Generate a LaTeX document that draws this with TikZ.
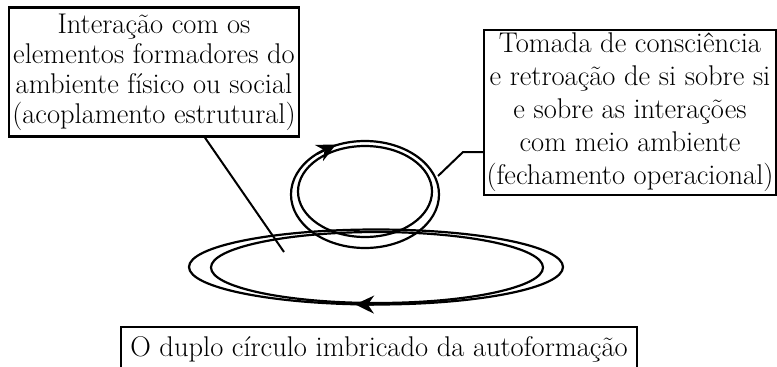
\documentclass[tikz,border=0pt]{standalone}
\usetikzlibrary{arrows.meta}
\begin{document}
\begin{tikzpicture}
			[x=1pt,y=-1pt,
			caixa/.style={draw,line width=2.4pt,align=center,inner sep=0pt,font=\fontsize{28.5}{30}\selectfont},
			laco/.style={line width=2.2pt},
			seta/.style={-{Stealth[length=19pt,width=18pt]},line width=2.2pt}]
			\useasboundingbox (0,0) rectangle (777,367);
			% caixas de texto
			\node[caixa,name=lbox,minimum width=290pt,minimum height=129pt]at(154,72){Interação com os\\elementos formadores do\\ambiente físico ou social\\(acoplamento estrutural)};
			\node[caixa,name=rbox,minimum width=292pt,minimum height=165pt,font=\fontsize{28.5}{33}\selectfont]at(630,112.5){Tomada de consciência\\e retroação de si sobre si\\e sobre as interações\\com meio ambiente\\(fechamento operacional)};
			\node[caixa,name=bbox,minimum width=516pt,minimum height=44pt]at(379,349){O duplo círculo imbricado da autoformação};
			% duplo circulo maior
			\draw[laco] (376,267) ellipse [x radius=187pt,y radius=37.5pt];
			\draw[laco] (377,267.5) ellipse [x radius=166pt,y radius=35.5pt];
			% duplo circulo menor
			\draw[laco] (365,194.5) ellipse [x radius=74pt,y radius=53.5pt];
			\draw[laco] (365,191.5) ellipse [x radius=67pt,y radius=45.5pt];
			% setas
			\draw[seta] (374,304.6)--(355,304.4);
			\draw[seta] (317,154)--(336,144.5);
			% ligacoes
			\coordinate (c1) at (284,252);
			\coordinate (c2) at (438,176);
			\coordinate (c3) at (463,152);
			\draw[line width=2pt] ([xshift=51pt]lbox.south)--(c1);
			\draw[line width=2pt] (c2)--(c3)--(c3-|rbox.west);
		\end{tikzpicture}
\end{document}
